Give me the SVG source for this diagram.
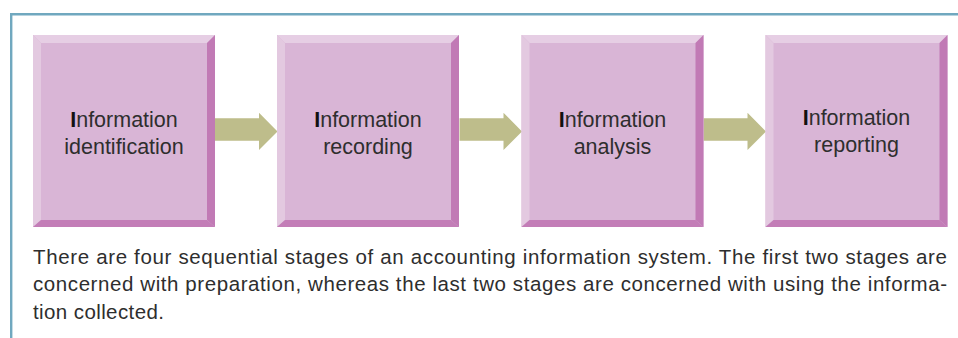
<svg xmlns="http://www.w3.org/2000/svg" xmlns:xlink="http://www.w3.org/1999/xlink" width="958" height="338" viewBox="0 0 958 338">
<style>
.face{fill:#d9b5d6}
.bt{fill:#e6cee4}
.bl{fill:#e3c9e0}
.br{fill:#c17ab5}
.bb{fill:#c37db7}
.arrow{fill:#bebd8b}
.lbl{font-family:"Liberation Sans",Arial,sans-serif;font-size:21.5px;fill:#2e2e2e;text-anchor:middle}
.cap{font-weight:bold;fill:#111}
.caption{font-family:"Liberation Sans",Arial,sans-serif;font-size:20.5px;fill:#2e2e2e}
.frame{fill:none;stroke:#70a8bf;stroke-width:2.4}
</style>
<defs>
<g id="box">
<rect class="face" x="0" y="0" width="182" height="192"/>
<polygon class="bt" points="0,0 182,0 174,8 8,8"/>
<polygon class="bl" points="0,0 8,8 8,185 0,192"/>
<polygon class="br" points="182,0 182,192 174,185 174,8"/>
<polygon class="bb" points="0,192 182,192 174,185 8,185"/>
</g>
<polygon id="arr" class="arrow" points="0,118.3 44,118.3 44,112.7 62.5,131.5 44,150 44,140.7 0,140.7"/>
</defs>
<path class="frame" d="M11.2,338 V14.2 H958"/>
<g id="connectors">
<use xlink:href="#arr" x="215"/>
<use xlink:href="#arr" x="459.5"/>
<use xlink:href="#arr" x="703.5"/>
</g>
<g id="node1">
<use xlink:href="#box" x="33" y="35"/>
<text class="lbl" x="124" y="127"><tspan class="cap">I</tspan>nformation</text>
<text class="lbl" x="124" y="154">identification</text>
</g>
<g id="node2">
<use xlink:href="#box" x="277" y="35"/>
<text class="lbl" x="368" y="127"><tspan class="cap">I</tspan>nformation</text>
<text class="lbl" x="368" y="154">recording</text>
</g>
<g id="node3">
<use xlink:href="#box" x="521.5" y="35"/>
<text class="lbl" x="612.5" y="127"><tspan class="cap">I</tspan>nformation</text>
<text class="lbl" x="612.5" y="154">analysis</text>
</g>
<g id="node4">
<use xlink:href="#box" x="765.5" y="35"/>
<text class="lbl" x="856.5" y="124.5"><tspan class="cap">I</tspan>nformation</text>
<text class="lbl" x="856.5" y="151.5">reporting</text>
</g>
<g id="caption">
<text class="caption" x="33" y="263.5" textLength="914" lengthAdjust="spacing">There are four sequential stages of an accounting information system. The first two stages are</text>
<text class="caption" x="33" y="291" textLength="914" lengthAdjust="spacing">concerned with preparation, whereas the last two stages are concerned with using the informa-</text>
<text class="caption" x="33" y="318.5" letter-spacing="0.4">tion collected.</text>
</g>
</svg>
